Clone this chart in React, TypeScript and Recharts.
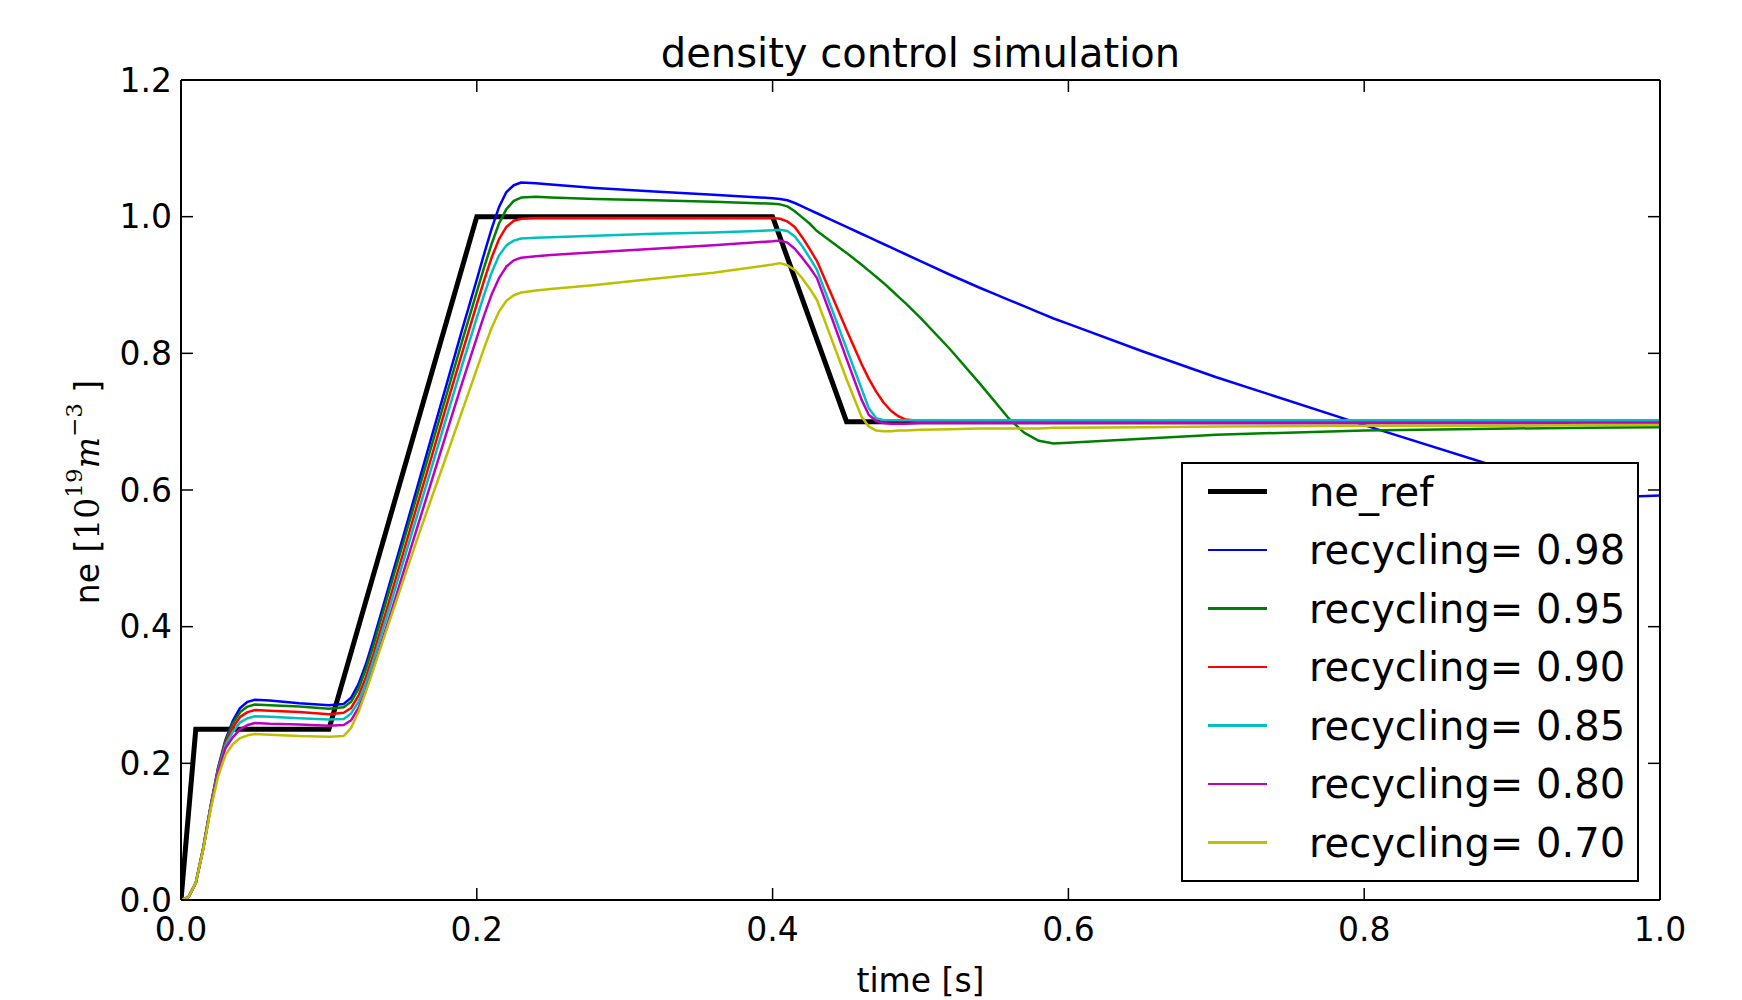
import React from 'react';
import { LineChart, Line, XAxis, YAxis, Legend, Label } from 'recharts';

// time grid of the simulated traces [s]
const timeS = [
  0, 0.005, 0.01, 0.015, 0.02, 0.025, 0.03, 0.035, 0.04, 0.045, 0.05, 0.06, 0.08, 0.1,
  0.11, 0.115, 0.12, 0.125, 0.13, 0.14, 0.15, 0.16, 0.17, 0.18, 0.19, 0.2, 0.205, 0.21,
  0.215, 0.22, 0.225, 0.23, 0.24, 0.25, 0.28, 0.32, 0.36, 0.4, 0.405, 0.41, 0.415, 0.42,
  0.425, 0.43, 0.44, 0.45, 0.46, 0.465, 0.47, 0.475, 0.48, 0.485, 0.49, 0.5, 0.52, 0.54,
  0.55, 0.56, 0.57, 0.58, 0.59, 0.6, 0.65, 0.7, 0.8, 0.9, 0.95, 1.0,
];

// reference waveform
const refTime = [0, 0.01, 0.1, 0.2, 0.4, 0.45, 1.0];
const refValue = [0, 0.25, 0.25, 1.0, 1.0, 0.7, 0.7];

const rec098 = [
  0, 0.004, 0.025, 0.076, 0.137, 0.193, 0.234, 0.262, 0.281, 0.29, 0.293, 0.292, 0.288, 0.285,
  0.287, 0.296, 0.316, 0.345, 0.38, 0.455, 0.53, 0.606, 0.682, 0.758, 0.834, 0.908, 0.946, 0.982,
  1.014, 1.036, 1.046, 1.05, 1.049, 1.047, 1.042, 1.037, 1.032, 1.027, 1.026, 1.024, 1.02, 1.015,
  1.01, 1.005, 0.995, 0.985, 0.975, 0.97, 0.965, 0.96, 0.955, 0.95, 0.945, 0.935, 0.915, 0.896,
  0.887, 0.878, 0.869, 0.86, 0.851, 0.843, 0.803, 0.765, 0.695, 0.627, 0.588, 0.592,
];
const rec095 = [
  0, 0.004, 0.025, 0.076, 0.137, 0.192, 0.232, 0.258, 0.275, 0.283, 0.286, 0.285, 0.283, 0.28,
  0.282, 0.29, 0.309, 0.338, 0.372, 0.447, 0.521, 0.595, 0.669, 0.743, 0.817, 0.89, 0.926, 0.96,
  0.99, 1.011, 1.023, 1.028, 1.029, 1.028, 1.026, 1.024, 1.022, 1.019, 1.018, 1.015, 1.008, 0.999,
  0.99, 0.979, 0.963, 0.947, 0.93, 0.921, 0.912, 0.903, 0.893, 0.883, 0.873, 0.852, 0.806, 0.756,
  0.73, 0.704, 0.684, 0.672, 0.668, 0.669, 0.675, 0.681, 0.687, 0.69, 0.691, 0.692,
];
const rec090 = [
  0, 0.004, 0.025, 0.075, 0.136, 0.19, 0.229, 0.252, 0.268, 0.275, 0.278, 0.277, 0.275, 0.272,
  0.274, 0.281, 0.299, 0.326, 0.359, 0.432, 0.506, 0.58, 0.653, 0.727, 0.8, 0.872, 0.907, 0.94,
  0.967, 0.985, 0.994, 0.997, 0.998, 0.998, 0.998, 0.998, 0.998, 0.998, 0.997, 0.993, 0.985, 0.97,
  0.953, 0.935, 0.885, 0.834, 0.785, 0.763, 0.744, 0.728, 0.716, 0.708, 0.703, 0.701, 0.7, 0.7,
  0.7, 0.7, 0.7, 0.7, 0.7, 0.7, 0.7, 0.7, 0.7, 0.7, 0.7, 0.7,
];
const rec085 = [
  0, 0.004, 0.025, 0.075, 0.135, 0.188, 0.226, 0.246, 0.26, 0.266, 0.269, 0.268, 0.266, 0.264,
  0.265, 0.273, 0.29, 0.317, 0.35, 0.421, 0.493, 0.565, 0.637, 0.71, 0.782, 0.852, 0.886, 0.918,
  0.943, 0.958, 0.965, 0.968, 0.969, 0.97, 0.972, 0.975, 0.977, 0.98, 0.981, 0.979, 0.971, 0.957,
  0.94, 0.922, 0.865, 0.807, 0.749, 0.72, 0.705, 0.702, 0.702, 0.702, 0.702, 0.702, 0.702, 0.702,
  0.702, 0.702, 0.702, 0.702, 0.702, 0.702, 0.702, 0.702, 0.702, 0.702, 0.702, 0.702,
];
const rec080 = [
  0, 0.004, 0.025, 0.074, 0.134, 0.186, 0.222, 0.238, 0.25, 0.256, 0.259, 0.258, 0.257, 0.255,
  0.256, 0.263, 0.281, 0.307, 0.339, 0.407, 0.477, 0.547, 0.617, 0.687, 0.756, 0.823, 0.856, 0.886,
  0.91, 0.927, 0.936, 0.94, 0.942, 0.944, 0.948, 0.953, 0.958, 0.964, 0.965, 0.962, 0.953, 0.94,
  0.926, 0.91, 0.852, 0.792, 0.733, 0.71, 0.701, 0.698, 0.697, 0.697, 0.697, 0.698, 0.698, 0.698,
  0.698, 0.698, 0.698, 0.698, 0.698, 0.698, 0.698, 0.698, 0.698, 0.698, 0.698, 0.698,
];
const rec070 = [
  0, 0.004, 0.025, 0.074, 0.132, 0.18, 0.212, 0.228, 0.237, 0.241, 0.243, 0.242, 0.24, 0.239,
  0.24, 0.252, 0.275, 0.305, 0.337, 0.402, 0.466, 0.53, 0.592, 0.653, 0.715, 0.777, 0.808, 0.837,
  0.861, 0.877, 0.885, 0.889, 0.892, 0.894, 0.9, 0.909, 0.918, 0.93, 0.932, 0.929, 0.922, 0.91,
  0.895, 0.878, 0.82, 0.762, 0.708, 0.693, 0.687, 0.686, 0.686, 0.687, 0.687, 0.688, 0.689, 0.69,
  0.69, 0.69, 0.69, 0.69, 0.691, 0.691, 0.692, 0.693, 0.694, 0.694, 0.695, 0.695,
];

const refName = 'ne_ref';
const seriesNames = [
  'recycling= 0.98', 'recycling= 0.95', 'recycling= 0.90',
  'recycling= 0.85', 'recycling= 0.80', 'recycling= 0.70',
];
const seriesColors = ['#0000ff', '#008000', '#ff0000', '#00bfbf', '#bf00bf', '#bfbf00'];
const seriesValues = [rec098, rec095, rec090, rec085, rec080, rec070];

const xTicks = [0, 0.2, 0.4, 0.6, 0.8, 1.0];
const yTicks = [0, 0.2, 0.4, 0.6, 0.8, 1.0, 1.2];

const refData = refTime.map((t, i) => ({ t, v: refValue[i] }));
const simData = seriesValues.map((vals) => timeS.map((t, i) => ({ t, v: vals[i] })));

const W = 1726;
const H = 992;
const SANS = 'DejaVu Sans, Verdana, sans-serif';
const SERIF = 'DejaVu Serif, Liberation Serif, serif';

const tickStyle = { fill: '#000', fontSize: 33, fontFamily: SANS };
const tickLineStyle = { stroke: '#000', strokeWidth: 1.5 };

const TitleLabel = () => (
  <text x={912.5} y={59} textAnchor="middle" fontSize={40} fontFamily={SANS} fill="#000">
    density control simulation
  </text>
);

const XLabel = () => (
  <text x={912.5} y={972} textAnchor="middle" dominantBaseline="central" fontSize={33} fontFamily={SANS} fill="#000">
    time [s]
  </text>
);

const YLabel = () => (
  <text
    transform="translate(79,484) rotate(-90)"
    textAnchor="middle"
    dominantBaseline="central"
    fontSize={33}
    fontFamily={SANS}
    fill="#000"
  >
    <tspan>ne [</tspan>
    <tspan fontFamily={SERIF}>10</tspan>
    <tspan fontFamily={SERIF} fontSize={23} dy={-13}>19</tspan>
    <tspan fontFamily={SERIF} fontStyle="italic" dy={13}>m</tspan>
    <tspan fontFamily={SERIF} fontSize={23} dy={-13}>−3</tspan>
    <tspan dy={13}> ]</tspan>
  </text>
);

const LegendBox = () => {
  const names = [refName, ...seriesNames];
  const colors = ['#000000', ...seriesColors];
  return (
    <div
      style={{
        position: 'relative',
        width: 458,
        height: 420,
        boxSizing: 'border-box',
        border: '2.5px solid #000',
        background: '#fff',
      }}
    >
      {names.map((n, i) => (
        <div
          key={n}
          style={{
            position: 'absolute',
            left: 0,
            top: 30 + i * 58.5 - 20 - 2.5,
            height: 40,
            width: '100%',
            display: 'flex',
            alignItems: 'center',
          }}
        >
          <div
            style={{
              position: 'absolute',
              left: 25,
              width: 59,
              height: i === 0 ? 5 : 2.5,
              background: colors[i],
            }}
          />
          <span
            style={{
              position: 'absolute',
              left: 126,
              fontSize: 40,
              lineHeight: '40px',
              fontFamily: SANS,
              color: '#000',
              whiteSpace: 'nowrap',
            }}
          >
            {n}
          </span>
        </div>
      ))}
    </div>
  );
};

export default function App() {
  return (
    <div style={{ width: W, height: H }}>
      <LineChart width={W} height={H} margin={{ top: 71, right: 73, bottom: 40, left: 93 }}>
        <XAxis
          xAxisId="bottom"
          dataKey="t"
          type="number"
          orientation="bottom"
          domain={[0, 1]}
          ticks={xTicks}
          allowDataOverflow
          height={60}
          tickSize={-12}
          tickMargin={30}
          tickFormatter={(v: number) => v.toFixed(1)}
          tick={tickStyle}
          tickLine={tickLineStyle}
          axisLine={{ stroke: '#000', strokeWidth: 2 }}
        >
          <Label content={XLabel} />
        </XAxis>
        <XAxis
          xAxisId="top"
          dataKey="t"
          type="number"
          orientation="top"
          domain={[0, 1]}
          ticks={xTicks}
          allowDataOverflow
          height={1}
          tickSize={-12}
          tickFormatter={() => ''}
          tick={tickStyle}
          tickLine={tickLineStyle}
          axisLine={{ stroke: '#000', strokeWidth: 2 }}
        >
          <Label content={TitleLabel} />
        </XAxis>
        <YAxis
          yAxisId="left"
          type="number"
          orientation="left"
          domain={[0, 1.2]}
          ticks={yTicks}
          allowDataOverflow
          width={80}
          tickSize={-12}
          tickMargin={21}
          tickFormatter={(v: number) => v.toFixed(1)}
          tick={tickStyle}
          tickLine={tickLineStyle}
          axisLine={{ stroke: '#000', strokeWidth: 2 }}
        >
          <Label content={YLabel} />
        </YAxis>
        <YAxis
          yAxisId="right"
          type="number"
          orientation="right"
          domain={[0, 1.2]}
          ticks={yTicks}
          allowDataOverflow
          width={1}
          tickSize={-12}
          tickFormatter={() => ''}
          tick={tickStyle}
          tickLine={tickLineStyle}
          axisLine={{ stroke: '#000', strokeWidth: 2 }}
        />
        <Line
          xAxisId="bottom"
          yAxisId="left"
          data={refData}
          dataKey="v"
          name={refName}
          type="linear"
          stroke="#000000"
          strokeWidth={5}
          dot={false}
          activeDot={false}
          isAnimationActive={false}
        />
        {simData.map((d, i) => (
          <Line
            key={seriesNames[i]}
            xAxisId="bottom"
            yAxisId="left"
            data={d}
            dataKey="v"
            name={seriesNames[i]}
            type="linear"
            stroke={seriesColors[i]}
            strokeWidth={2.5}
            strokeLinejoin="round"
            dot={false}
            activeDot={false}
            isAnimationActive={false}
          />
        ))}
        {/* keep the top/right frame axes alive with an invisible trace */}
        <Line
          xAxisId="top"
          yAxisId="right"
          data={refData}
          dataKey="v"
          legendType="none"
          stroke="none"
          strokeWidth={0}
          dot={false}
          activeDot={false}
          isAnimationActive={false}
        />
        <Legend
          layout="vertical"
          align="center"
          verticalAlign="middle"
          wrapperStyle={{ left: 1173, top: 454, width: 458, height: 420 }}
          content={LegendBox}
        />
      </LineChart>
    </div>
  );
}
